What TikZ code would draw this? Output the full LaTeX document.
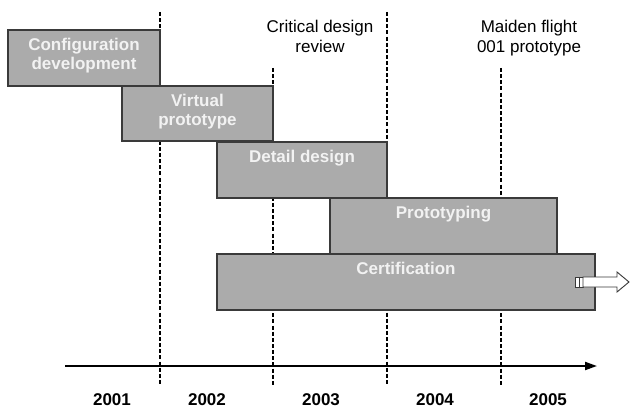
\documentclass[tikz,border=0pt]{standalone}
\usepackage{fontspec}
\setmainfont{Liberation Sans}
\usetikzlibrary{fit,arrows.meta}
\definecolor{phasegray}{HTML}{ABABAB}
\definecolor{phaseline}{HTML}{3A3A3A}
\definecolor{phaseink}{HTML}{F2F2F2}
\begin{document}
\begin{tikzpicture}[x=0.75pt,y=-0.75pt,
  phase/.style={draw=phaseline, line width=0.8pt, fill=phasegray, inner sep=0pt},
  phasetext/.style={anchor=north, inner sep=0pt, align=center, text=phaseink,
    font=\bfseries\fontsize{12.75}{14.6}\selectfont},
  milestone/.style={anchor=north, inner sep=0pt, align=center,
    font=\fontsize{12.75}{14.6}\selectfont},
  yearlabel/.style={anchor=base, inner sep=0pt, font=\bfseries\fontsize{12.75}{14.6}\selectfont},
  guide/.style={line width=1.3pt, dash pattern=on 3pt off 1.6pt},
  axis/.style={line width=1.5pt, -{Triangle[length=9pt,width=6pt]}},
  continues/.style={draw=phaseline, line width=0.7pt, fill=white}]
\useasboundingbox (0,0) rectangle (630,409);

% year boundaries
\coordinate (g1t) at (160,12);  \coordinate (g1b) at (160,385);
\coordinate (g2t) at (273,68);  \coordinate (g2b) at (273,385);
\coordinate (g3t) at (387,12);  \coordinate (g3b) at (387,385);
\coordinate (g4t) at (501,68);  \coordinate (g4b) at (501,385);
\foreach \g in {1,2,3,4} \draw[guide] (g\g t) -- (g\g b);

% programme phases
\node[phase, fit={(8,30) (160,86)}]    (config) {};
\node[phase, fit={(122,86) (273,141)}] (virtual) {};
\node[phase, fit={(217,142) (387,198)}] (detail) {};
\node[phase, fit={(330,198) (557,254)}] (proto) {};
\node[phase, fit={(217,254) (595,310)}] (cert) {};

\node[phasetext] (configT)  at ([yshift=-6pt]config.north)  {Configuration\\development};
\node[phasetext] (virtualT) at ([yshift=-6pt]virtual.north) {Virtual\\prototype};
\node[phasetext] (detailT)  at ([yshift=-6.3pt]detail.north)  {Detail design};
\node[phasetext] (protoT)   at ([yshift=-6.3pt]proto.north)   {Prototyping};
\node[phasetext] (certT)    at ([yshift=-6pt]cert.north)    {Certification};

% certification continues beyond the chart
\draw[continues] (575,277) rectangle (579,287);
\draw[continues] (579,277) rectangle (583,287);
\draw[continues] (583,277) -- (617,277) -- (617,272) -- (629,282)
  -- (617,292) -- (617,287) -- (583,287) -- cycle;

% milestones
\node[milestone] (cdr)    at (320,20) {Critical design\\review};
\node[milestone] (maiden) at (529,20) {Maiden flight\\001 prototype};

% time axis
\coordinate (ax0) at (65,366);
\coordinate (ax1) at (597,366);
\draw[axis] (ax0) -- (ax1);

\node[yearlabel] (y2001) at (112,405) {2001};
\node[yearlabel] (y2002) at (207,405) {2002};
\node[yearlabel] (y2003) at (321,405) {2003};
\node[yearlabel] (y2004) at (435,405) {2004};
\node[yearlabel] (y2005) at (548,405) {2005};
\end{tikzpicture}
\end{document}
